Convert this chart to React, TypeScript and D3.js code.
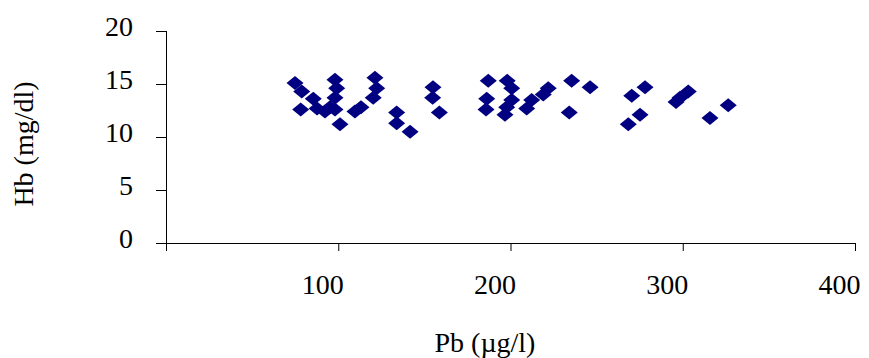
import React, { useEffect, useRef } from "react";
import * as d3 from "d3";

const width = 869;
const height = 358;
const margin = { top: 31, right: 14, bottom: 115, left: 166 };

// Pb (µg/l)
const pb = [
  74.9, 78.8, 78.2, 85.5, 87.7, 92.3, 95.2, 98.1, 99.1, 98.1, 98.1, 101,
  109.7, 113.2, 121.3, 122.3, 120.3, 133.9, 133.9, 141.7, 155, 154.8, 158.7,
  187.1, 186.2, 185.8, 198.1, 200.7, 200.7, 197.8, 196.8, 212.3, 209.4, 219,
  221.9, 235.5, 246.2, 234.1, 270.4, 278.1, 275.2, 268.4, 296.1, 298.4, 303.2,
  315.8, 326.4
];
// Hb (mg/dl)
const hb = [
  15.1, 14.3, 12.6, 13.6, 12.7, 12.4, 12.8, 15.4, 14.6, 13.7, 12.6, 11.2,
  12.4, 12.8, 15.6, 14.6, 13.7, 12.3, 11.3, 10.5, 14.7, 13.7, 12.3,
  15.3, 13.6, 12.6, 15.3, 14.6, 13.5, 12.8, 12.1, 13.5, 12.7, 14.0,
  14.6, 15.3, 14.7, 12.3, 13.9, 14.7, 12.1, 11.2, 13.3, 13.7, 14.3,
  11.8, 13.0
];
const xTicks = [0, 100, 200, 300, 400];
const yTicks = [0, 5, 10, 15, 20];

const font = "Liberation Serif";
const fontSize = 28;

const App = () => {
  const xAxisRef = useRef<SVGGElement>(null);
  const yAxisRef = useRef<SVGGElement>(null);

  const xScale = d3
    .scaleLinear()
    .domain([0, 400])
    .range([margin.left, width - margin.right]);
  const yScale = d3
    .scaleLinear()
    .domain([0, 20])
    .range([height - margin.bottom, margin.top]);

  useEffect(() => {
    const xAxis = d3
      .axisBottom(xScale)
      .tickValues(xTicks)
      .tickSize(8)
      .tickFormat(d => (d === 0 ? "" : String(d)));
    const gx = d3.select(xAxisRef.current!).call(xAxis);
    gx.attr("font-family", font).attr("font-size", fontSize);
    gx.select(".domain").attr("d", `M${xScale(0)},0.5H${xScale(400)}`);
    gx.selectAll("text")
      .attr("y", 51)
      .attr("dy", 0)
      .attr("dx", -16)
      .attr("fill", "#000");
    gx.selectAll("line").attr("stroke", "#000");

    const yAxis = d3
      .axisLeft(yScale)
      .tickValues(yTicks)
      .tickSize(10)
      .tickFormat(d => String(d));
    const gy = d3.select(yAxisRef.current!).call(yAxis);
    gy.attr("font-family", font).attr("font-size", fontSize);
    gy.select(".domain").attr("d", `M0.5,${yScale(20)}V${yScale(0) + 8}`);
    gy.selectAll("text")
      .attr("x", -33)
      .attr("y", 4)
      .attr("dy", 0)
      .attr("fill", "#000");
    gy.selectAll("line").attr("stroke", "#000");
  }, []);

  const diamond = (cx: number, cy: number) => {
    const w = 8.5;
    const h = 7;
    return `M${cx},${cy - h}L${cx + w},${cy}L${cx},${cy + h}L${cx - w},${cy}Z`;
  };

  return (
    <svg
      width={width}
      height={height}
      style={{ position: "absolute", left: 0, top: 0, background: "#fff" }}
    >
      <g ref={xAxisRef} transform={`translate(0, ${yScale(0)})`} />
      <g ref={yAxisRef} transform={`translate(${margin.left}, 0)`} />
      <g>
        {pb.map((d, i) => (
          <path key={i} d={diamond(xScale(d), yScale(hb[i]))} fill="#000080" />
        ))}
      </g>
      <text x={485} y={352} textAnchor="middle" fontFamily={font} fontSize={fontSize}>
        Pb (µg/l)
      </text>
      <text
        transform="translate(33, 144) rotate(-90)"
        textAnchor="middle"
        fontFamily={font}
        fontSize={fontSize}
      >
        Hb (mg/dl)
      </text>
    </svg>
  );
};

export default App;
